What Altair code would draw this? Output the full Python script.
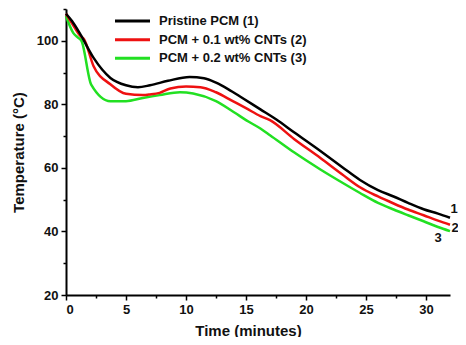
import altair as alt
import pandas as pd

# ---- data ----
series_names = ["Pristine PCM (1)", "PCM + 0.1 wt% CNTs (2)", "PCM + 0.2 wt% CNTs (3)"]
series_colors = ["#000000", "#ee1111", "#22e022"]
end_labels = ["1", "2", "3"]

t_black = [0, 0.5, 1.2, 2.3, 3.7, 5.0, 6.0, 7.0, 8.5, 10.3, 11.5, 12.5, 13.5, 14.7,
           16.2, 17.5, 19.0, 21.2, 23.0, 24.5, 26.0, 27.3, 28.5, 29.8, 31.0, 32.0]
v_black = [108.5, 106.2, 102.0, 94.6, 88.3, 86.0, 85.4, 86.0, 87.4, 88.6, 88.2, 86.8, 84.8, 82.0,
           78.4, 75.3, 71.2, 65.3, 60.3, 56.2, 53.0, 51.0, 49.0, 47.0, 45.6, 44.3]

t_red = [0, 0.5, 1.2, 1.5, 2.3, 3.7, 5.0, 6.4, 7.0, 7.8, 8.7, 10.0, 11.2, 12.5, 13.9, 15.0,
         16.2, 17.0, 19.0, 21.2, 23.0, 24.5, 26.0, 27.3, 28.5, 29.8, 31.0, 32.0]
v_red = [108.5, 105.5, 101.5, 100.5, 92.0, 86.3, 83.3, 82.9, 83.1, 83.6, 85.0, 85.6, 85.4, 83.8, 81.0, 78.8,
         76.3, 75.0, 69.1, 63.1, 58.0, 53.9, 51.0, 48.8, 46.9, 45.1, 43.4, 42.1]

t_green = [0, 0.6, 1.0, 1.3, 2.1, 3.7, 5.0, 6.4, 7.8, 9.5, 10.6, 12.5, 14.0, 15.2, 16.2, 17.0,
           19.0, 21.2, 23.0, 24.5, 26.0, 27.3, 28.5, 29.8, 31.0, 32.0]
v_green = [107.8, 102.5, 101.0, 99.9, 86.2, 81.0, 81.0, 82.0, 82.9, 83.8, 83.4, 81.0, 77.5, 74.6, 72.4, 70.3,
           64.9, 59.5, 55.4, 52.1, 49.0, 46.9, 45.1, 43.2, 41.4, 40.1]

x_major = [0, 5, 10, 15, 20, 25, 30]
x_minor = [2.5, 7.5, 12.5, 17.5, 22.5, 27.5]
y_major = [20, 40, 60, 80, 100]
y_minor = [30, 50, 70, 90, 110]

# ---- tables ----
rows = []
for name, ts, vs in zip(series_names, [t_black, t_red, t_green], [v_black, v_red, v_green]):
    for t, v in zip(ts, vs):
        rows.append({"series": name, "t": t, "v": v})
df = pd.DataFrame(rows)

ends = pd.DataFrame({
    "series": series_names,
    "label": end_labels,
    "t": [t_black[-1], t_red[-1], t_green[-1]],
    "v": [v_black[-1], v_red[-1], v_green[-1]],
})
legend_df = pd.DataFrame({"series": series_names})

FONT = "Liberation Sans"
x_scale = alt.Scale(domain=[0, 32], nice=False, zero=False)
y_scale = alt.Scale(domain=[20, 110], nice=False, zero=False)
color_scale = alt.Scale(domain=series_names, range=series_colors)

x_axis = alt.Axis(values=x_major, tickSize=5, tickWidth=1.5, domainWidth=2, domainColor="black",
                  tickColor="black", labelFont=FONT, labelFontSize=13, labelFontWeight="bold",
                  labelColor="#111", labelPadding=3, grid=False, format="d",
                  title="Time (minutes)", titleFont=FONT, titleFontSize=15, titleFontWeight="bold",
                  titleColor="#111", titlePadding=7, titleX=182, orient="bottom")
y_axis = alt.Axis(values=y_major, tickSize=5, tickWidth=1.5, domainWidth=2, domainColor="black",
                  tickColor="black", labelFont=FONT, labelFontSize=13, labelFontWeight="bold",
                  labelColor="#111", labelPadding=3, grid=False, format="d",
                  title="Temperature (°C)", titleFont=FONT, titleFontSize=15, titleFontWeight="bold",
                  titleColor="#111", titlePadding=10, orient="left")
x_axis_minor = alt.Axis(values=x_minor, tickSize=3, tickWidth=1.5, tickColor="black", labels=False,
                        domain=False, grid=False, title=None, orient="bottom")
y_axis_minor = alt.Axis(values=y_minor, tickSize=3, tickWidth=1.5, tickColor="black", labels=False,
                        domain=False, grid=False, title=None, orient="left")

base = alt.Chart(df)

def line_layer(name, xa, ya):
    enc_x = alt.X("t:Q", scale=x_scale, axis=xa) if xa is not None else alt.X("t:Q", scale=x_scale, axis=None)
    enc_y = alt.Y("v:Q", scale=y_scale, axis=ya) if ya is not None else alt.Y("v:Q", scale=y_scale, axis=None)
    return base.transform_filter(alt.datum.series == name).mark_line(
        strokeWidth=2.5, interpolate="monotone"
    ).encode(
        x=enc_x,
        y=enc_y,
        color=alt.Color("series:N", scale=color_scale, legend=None),
        order="t:Q",
    )

green = line_layer(series_names[2], x_axis, y_axis)
red = line_layer(series_names[1], x_axis_minor, y_axis_minor)
black = line_layer(series_names[0], None, None)

offsets = [(4, -9), (5, 3), (-12, 7)]
label_layers = []
for name, (dx, dy) in zip(series_names, offsets):
    label_layers.append(
        alt.Chart(ends).transform_filter(alt.datum.series == name).mark_text(
            font=FONT, fontSize=13, fontWeight="bold", dx=dx, dy=dy, color="#111",
            align="center", baseline="middle"
        ).encode(
            x=alt.X("t:Q", scale=x_scale, axis=None),
            y=alt.Y("v:Q", scale=y_scale, axis=None),
            text="label:N",
        )
    )

legend_y = alt.Y("series:N", scale=alt.Scale(type="point", domain=series_names, range=[12, 49.3], padding=0),
                 axis=None)
legend_lines = alt.Chart(legend_df).mark_rule(strokeWidth=3).encode(
    x=alt.value(49), x2=alt.value(84), y=legend_y,
    color=alt.Color("series:N", scale=color_scale, legend=None),
)
legend_text = alt.Chart(legend_df).mark_text(
    font=FONT, fontSize=13, fontWeight="bold", align="left", baseline="middle", color="#111"
).encode(x=alt.value(93), y=legend_y, text="series:N")

chart = alt.layer(
    green, red, black, *label_layers, legend_lines, legend_text
).resolve_scale(y="independent", x="independent", color="shared").resolve_axis(
    x="independent", y="independent"
).properties(
    width=384, height=286,
    autosize=alt.AutoSizeParams(type="none"),
    padding={"left": 58, "top": 1, "right": 8, "bottom": 42},
    background="white",
).configure_view(stroke=None)

chart.save("out.html", embed_options={"renderer": "svg", "actions": False})
